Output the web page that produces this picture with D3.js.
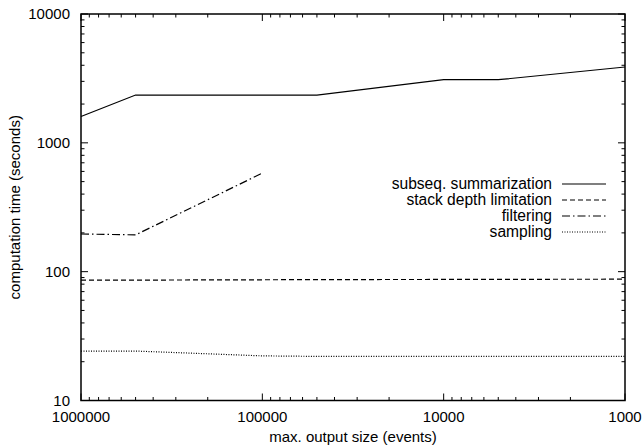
<!DOCTYPE html>
<html><head><meta charset="utf-8">
<script src="https://cdn.jsdelivr.net/npm/d3@7"></script>
<style>body{margin:0;background:#fff}svg{display:block}text{font-family:"Liberation Sans",Arial,Helvetica,sans-serif;fill:#000}</style>
</head><body>
<script>
const xValues = [1000000, 500000, 100000, 50000, 10000, 5000, 1000];
const subseq = [1600, 2350, 2350, 2350, 3090, 3090, 3880];
const stackDepth = [86, 86, 86.5, 86.8, 87, 87.2, 87.4];
const filteringX = [1000000, 500000, 100000];
const filtering = [196, 193, 582];
const sampling = [24.2, 24.2, 22.2, 22, 22, 22, 22];
const xTicks = [1000000, 100000, 10000, 1000];
const yTicks = [10, 100, 1000, 10000];
const seriesNames = ["subseq. summarization", "stack depth limitation", "filtering", "sampling"];

const W = 642, H = 448;
const L = 81, R = 625, T = 14, B = 400.5;
const svg = d3.select("body").append("svg").attr("width", W).attr("height", H);
const x = d3.scaleLog().domain([1000000, 1000]).range([L, R]);
const y = d3.scaleLog().domain([10, 10000]).range([B, T]);

const minorX = [], minorY = [];
for (let d = 1000; d < 1000000; d *= 10) for (let m = 2; m <= 9; m++) minorX.push(d * m);
for (let d = 10; d < 10000; d *= 10) for (let m = 2; m <= 9; m++) minorY.push(d * m);

const g = svg.append("g").attr("stroke", "#000").attr("stroke-width", 1);
const tk = (v, len, axis) => {
  if (axis === "x") {
    g.append("line").attr("x1", x(v)).attr("x2", x(v)).attr("y1", B).attr("y2", B - len);
    g.append("line").attr("x1", x(v)).attr("x2", x(v)).attr("y1", T).attr("y2", T + len);
  } else {
    g.append("line").attr("y1", y(v)).attr("y2", y(v)).attr("x1", L).attr("x2", L + len);
    g.append("line").attr("y1", y(v)).attr("y2", y(v)).attr("x1", R).attr("x2", R - len);
  }
};
minorX.forEach(v => tk(v, 3.5, "x"));
xTicks.forEach(v => tk(v, 7, "x"));
minorY.forEach(v => tk(v, 3.5, "y"));
yTicks.forEach(v => tk(v, 7, "y"));

svg.append("rect").attr("x", L).attr("y", T).attr("width", R - L).attr("height", B - T)
  .attr("fill", "none").attr("stroke", "#000").attr("stroke-width", 1.5);

svg.append("g").selectAll("text").data(xTicks).join("text")
  .attr("x", d => x(d)).attr("y", 422).attr("text-anchor", "middle").attr("font-size", 15)
  .text(d => String(d));
svg.append("g").selectAll("text").data(yTicks).join("text")
  .attr("x", 70).attr("y", d => y(d)).attr("dy", "0.35em").attr("text-anchor", "end").attr("font-size", 15)
  .text(d => String(d));

svg.append("text").attr("x", (L + R) / 2).attr("y", 442).attr("text-anchor", "middle")
  .attr("font-size", 15).text("max. output size (events)");
svg.append("text").attr("transform", `translate(20,${(T + B) / 2}) rotate(-90)`)
  .attr("text-anchor", "middle").attr("font-size", 15).text("computation time (seconds)");

const dashes = [null, "5,3", "8,3,1.5,3", "1,1.5"];
const line = d3.line().x(d => x(d[0])).y(d => y(d[1]));
const series = [
  xValues.map((v, i) => [v, subseq[i]]),
  xValues.map((v, i) => [v, stackDepth[i]]),
  filteringX.map((v, i) => [v, filtering[i]]),
  xValues.map((v, i) => [v, sampling[i]])
];
series.forEach((s, i) => {
  svg.append("path").attr("d", line(s)).attr("fill", "none").attr("stroke", "#000")
    .attr("stroke-width", 1.2).attr("stroke-dasharray", dashes[i]);
});

seriesNames.forEach((n, i) => {
  const yy = 184 + i * 16;
  svg.append("text").attr("x", 552).attr("y", yy).attr("dy", "0.35em").attr("text-anchor", "end")
    .attr("font-size", 15.6).text(n);
  svg.append("line").attr("x1", 562).attr("x2", 606).attr("y1", yy).attr("y2", yy)
    .attr("stroke", "#000").attr("stroke-width", 1.2).attr("stroke-dasharray", dashes[i]);
});
</script>
</body></html>
